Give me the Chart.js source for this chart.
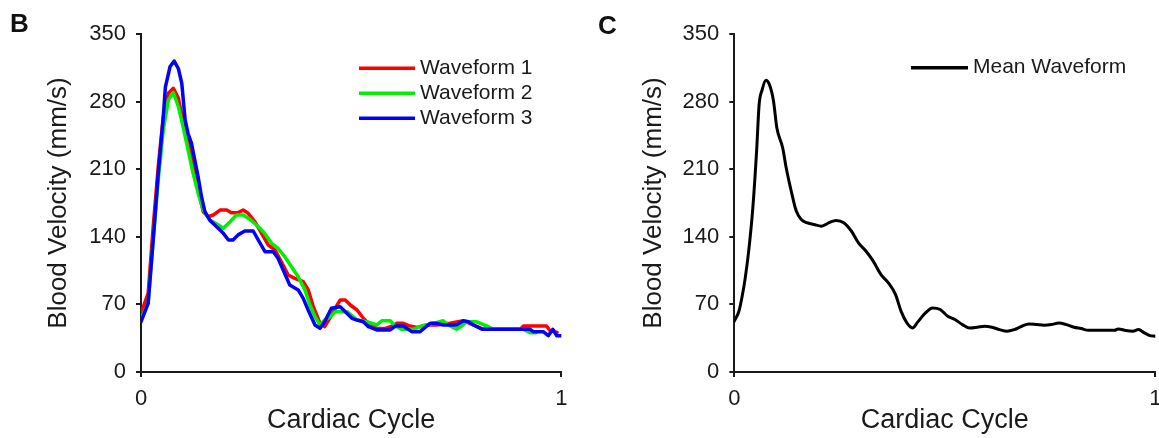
<!DOCTYPE html>
<html>
<head>
<meta charset="utf-8">
<script src="https://cdn.jsdelivr.net/npm/chart.js@4.4.1/dist/chart.umd.min.js"></script>
<style>
  html, body { margin: 0; padding: 0; background: #fff; overflow: hidden; }
  #wrap { position: relative; width: 1159px; height: 438px; overflow: hidden; }
  .panel { position: absolute; top: 0; height: 438px; }
  .tag { position: absolute; font: bold 26px "Liberation Sans", Arial, sans-serif; color: #111; line-height: normal; }
</style>
</head>
<body>
<div id="wrap">
  <div class="panel" style="left:0;width:580px"><canvas id="chartB" width="580" height="438"></canvas></div>
  <div class="panel" style="left:580px;width:600px"><canvas id="chartC" width="600" height="438"></canvas></div>
  <div class="tag" style="left:10px;top:8px">B</div>
  <div class="tag" style="left:598px;top:10px">C</div>
</div>
<script>
// --- Data (cardiac cycle fraction vs blood velocity, mm/s) ---
const wave1X = [0, 0.017, 0.029, 0.041, 0.053, 0.065, 0.077, 0.089, 0.1, 0.112, 0.124, 0.136, 0.148, 0.16, 0.172, 0.188, 0.204, 0.215, 0.231, 0.243, 0.255, 0.271, 0.287, 0.303, 0.319, 0.334, 0.35, 0.366, 0.386, 0.398, 0.41, 0.426, 0.437, 0.449, 0.469, 0.474, 0.486, 0.498, 0.514, 0.529, 0.545, 0.561, 0.58, 0.6, 0.609, 0.624, 0.64, 0.656, 0.68, 0.704, 0.735, 0.767, 0.791, 0.815, 0.902, 0.91, 0.965, 0.973, 0.99];
const wave1Y = [60.8, 81.5, 150.5, 212.6, 264, 288.6, 293.8, 283.4, 259, 240, 212.6, 188.5, 166, 160.8, 162.6, 167.7, 167.7, 165, 165, 167.7, 164.3, 155.6, 143.6, 131.5, 126.3, 114.2, 100.4, 97, 93.5, 85, 67.6, 50.4, 47, 55.6, 71, 74.6, 74.6, 69.4, 64.2, 55.6, 48.7, 45.2, 45, 48, 50.4, 50.4, 47.6, 46.2, 48.7, 48.7, 50.4, 53, 48.7, 44.2, 44.2, 47.6, 47.6, 42.8, 41];

const wave2X = [0, 0.017, 0.029, 0.041, 0.053, 0.065, 0.077, 0.089, 0.1, 0.112, 0.124, 0.136, 0.148, 0.164, 0.184, 0.196, 0.212, 0.227, 0.243, 0.259, 0.275, 0.291, 0.311, 0.326, 0.342, 0.358, 0.374, 0.39, 0.402, 0.414, 0.426, 0.437, 0.45, 0.462, 0.49, 0.514, 0.537, 0.561, 0.573, 0.593, 0.605, 0.62, 0.648, 0.668, 0.696, 0.719, 0.731, 0.751, 0.763, 0.775, 0.799, 0.823, 0.838, 0.91, 0.926, 0.94];
const wave2Y = [55, 71, 136.7, 198.8, 250.6, 281.7, 289.2, 274.7, 254, 229.9, 205.7, 185, 167.7, 157.4, 152.2, 148.8, 155.6, 162.6, 162.6, 158.1, 152.2, 145.3, 133.3, 128, 119.4, 109, 98.7, 85, 69.4, 57.3, 48.7, 53.8, 57, 62.5, 62.5, 53.8, 52, 48.7, 53, 53, 47.6, 44.2, 44.2, 47.6, 50.4, 53, 48.7, 44.2, 47.6, 52, 52, 47.6, 44.2, 44.2, 40.7, 40.7];

const wave3X = [0, 0.017, 0.029, 0.041, 0.053, 0.058, 0.069, 0.079, 0.089, 0.097, 0.105, 0.112, 0.12, 0.128, 0.136, 0.144, 0.152, 0.164, 0.18, 0.196, 0.208, 0.219, 0.231, 0.247, 0.267, 0.279, 0.295, 0.315, 0.326, 0.342, 0.354, 0.374, 0.386, 0.398, 0.414, 0.426, 0.437, 0.453, 0.474, 0.486, 0.502, 0.514, 0.529, 0.541, 0.561, 0.593, 0.605, 0.624, 0.644, 0.664, 0.676, 0.688, 0.704, 0.719, 0.751, 0.767, 0.779, 0.791, 0.811, 0.926, 0.933, 0.957, 0.969, 0.98, 0.989, 1];
const wave3Y = [52, 71, 136.7, 205.7, 264, 295, 316, 322, 314, 299, 261, 247, 237, 219.5, 202, 181.5, 166, 157, 150.5, 143.6, 136.7, 136.7, 142, 146, 146, 136.7, 124.6, 124.6, 117.7, 102, 90, 85, 76.3, 64, 48.7, 45.2, 52, 66, 67.6, 62.5, 55.6, 53.8, 52, 47, 43.5, 43.5, 47.6, 47.6, 41.8, 41.8, 46.2, 50.4, 50.4, 48.7, 48.7, 53, 52, 48.7, 44.2, 44.2, 41.8, 41.8, 37.6, 44.2, 37.6, 37.6];

const meanX = [0, 0.011, 0.018, 0.026, 0.035, 0.044, 0.053, 0.059, 0.066, 0.075, 0.084, 0.093, 0.101, 0.115, 0.123, 0.137, 0.147, 0.159, 0.172, 0.189, 0.207, 0.225, 0.242, 0.26, 0.278, 0.295, 0.313, 0.33, 0.348, 0.366, 0.383, 0.396, 0.41, 0.423, 0.436, 0.454, 0.471, 0.489, 0.507, 0.524, 0.542, 0.559, 0.577, 0.595, 0.612, 0.63, 0.648, 0.665, 0.683, 0.7, 0.718, 0.736, 0.753, 0.771, 0.789, 0.807, 0.824, 0.841, 0.877, 0.903, 0.912, 0.93, 0.947, 0.96, 0.974, 0.987, 1];
const meanY = [52.6, 62.9, 76.8, 97.5, 128.6, 170, 229, 277, 292, 302, 297, 281, 253, 232, 212, 184, 167, 158, 154.6, 152.8, 151, 154.6, 157, 154.6, 146, 133.8, 125, 114.8, 101, 92.3, 80.2, 63, 50.8, 45.6, 51.9, 61.2, 66.4, 64.7, 57.7, 54.3, 49.1, 45.6, 46.3, 47.4, 46.3, 43.9, 42.2, 43.9, 47.4, 49.8, 49.1, 48.4, 49.1, 50.8, 49.1, 46.3, 45, 43.2, 43.2, 43.2, 44.6, 42.9, 42.2, 43.9, 40.5, 37.7, 37];

const seriesLabels = ["Waveform 1", "Waveform 2", "Waveform 3"];
const meanLabel = "Mean Waveform";
const xTicks = [0, 1];
const yTicks = [0, 70, 140, 210, 280, 350];

// --- Styling ---
const ink = "#1a1a1a";
const family = '"Liberation Sans", Arial, sans-serif';

function pts(xs, ys) {
  return xs.map((x, i) => ({ x: x, y: ys[i] }));
}

// legend drawn inside the plot, one row per dataset
const inlineLegend = {
  id: "inlineLegend",
  afterDraw(chart, args, opts) {
    const ctx = chart.ctx;
    ctx.save();
    ctx.font = `21px ${family}`;
    ctx.textBaseline = "middle";
    ctx.textAlign = "left";
    chart.data.datasets.forEach((ds, i) => {
      const y = opts.y + i * opts.rowGap;
      ctx.strokeStyle = ds.borderColor;
      ctx.lineWidth = opts.lineWidth;
      ctx.beginPath();
      ctx.moveTo(opts.x, y);
      ctx.lineTo(opts.x + opts.lineLen, y);
      ctx.stroke();
      ctx.fillStyle = ink;
      ctx.fillText(ds.label, opts.x + opts.lineLen + 5, y);
    });
    ctx.restore();
  },
};

function makeScales(yAxisWidth, yTitlePad) {
  return {
    x: {
      type: "linear",
      min: xTicks[0],
      max: xTicks[xTicks.length - 1],
      afterBuildTicks: (s) => { s.ticks = xTicks.map((v) => ({ value: v })); },
      ticks: { padding: 9, maxRotation: 0, color: ink, font: { family: family, size: 22 } },
      grid: { drawOnChartArea: false, drawTicks: true, tickLength: 5, color: ink, lineWidth: 2 },
      border: { display: true, color: ink, width: 2 },
      title: { display: true, text: "Cardiac Cycle", color: ink, font: { family: family, size: 27 }, padding: { top: 0, bottom: 1 } },
      afterFit: (s) => { s.height = 66; },
    },
    y: {
      type: "linear",
      min: yTicks[0],
      max: yTicks[yTicks.length - 1],
      afterBuildTicks: (s) => { s.ticks = yTicks.map((v) => ({ value: v })); },
      ticks: { padding: 10, color: ink, font: { family: family, size: 22 } },
      grid: { drawOnChartArea: false, drawTicks: true, tickLength: 5, color: ink, lineWidth: 2 },
      border: { display: true, color: ink, width: 2 },
      title: { display: true, text: "Blood Velocity (mm/s)", color: ink, font: { family: family, size: 26 }, padding: { top: yTitlePad, bottom: 0 } },
      afterFit: (s) => { s.width = yAxisWidth; },
    },
  };
}

function baseOptions(yAxisWidth, yTitlePad, rightPad, legendOpts) {
  return {
    responsive: false,
    animation: false,
    devicePixelRatio: 1,
    events: [],
    layout: { padding: { top: 34, right: rightPad, bottom: 0, left: 0 } },
    elements: { point: { radius: 0 }, line: { borderJoinStyle: "round", borderCapStyle: "round" } },
    plugins: {
      legend: { display: false },
      tooltip: { enabled: false },
      inlineLegend: legendOpts,
    },
    scales: makeScales(yAxisWidth, yTitlePad),
  };
}

// --- Panel B: three waveforms ---
new Chart(document.getElementById("chartB"), {
  type: "line",
  plugins: [inlineLegend],
  data: {
    datasets: [
      { label: seriesLabels[0], data: pts(wave1X, wave1Y), borderColor: "#ff0000", borderWidth: 3.5, tension: 0, order: 3 },
      { label: seriesLabels[1], data: pts(wave2X, wave2Y), borderColor: "#00ee00", borderWidth: 3.5, tension: 0, order: 2 },
      { label: seriesLabels[2], data: pts(wave3X, wave3Y), borderColor: "#0000ff", borderWidth: 3.5, tension: 0, order: 1 },
    ],
  },
  options: baseOptions(141, 43, 18.7, { x: 359, y: 68.3, rowGap: 25, lineLen: 56, lineWidth: 3.5 }),
});

// --- Panel C: mean waveform ---
new Chart(document.getElementById("chartC"), {
  type: "line",
  plugins: [inlineLegend],
  data: {
    datasets: [
      { label: meanLabel, data: pts(meanX, meanY), borderColor: "#000000", borderWidth: 3, cubicInterpolationMode: "monotone" },
    ],
  },
  options: baseOptions(154.3, 58, 24.7, { x: 331, y: 67.7, rowGap: 25, lineLen: 57, lineWidth: 3.5 }),
});
</script>
</body>
</html>
